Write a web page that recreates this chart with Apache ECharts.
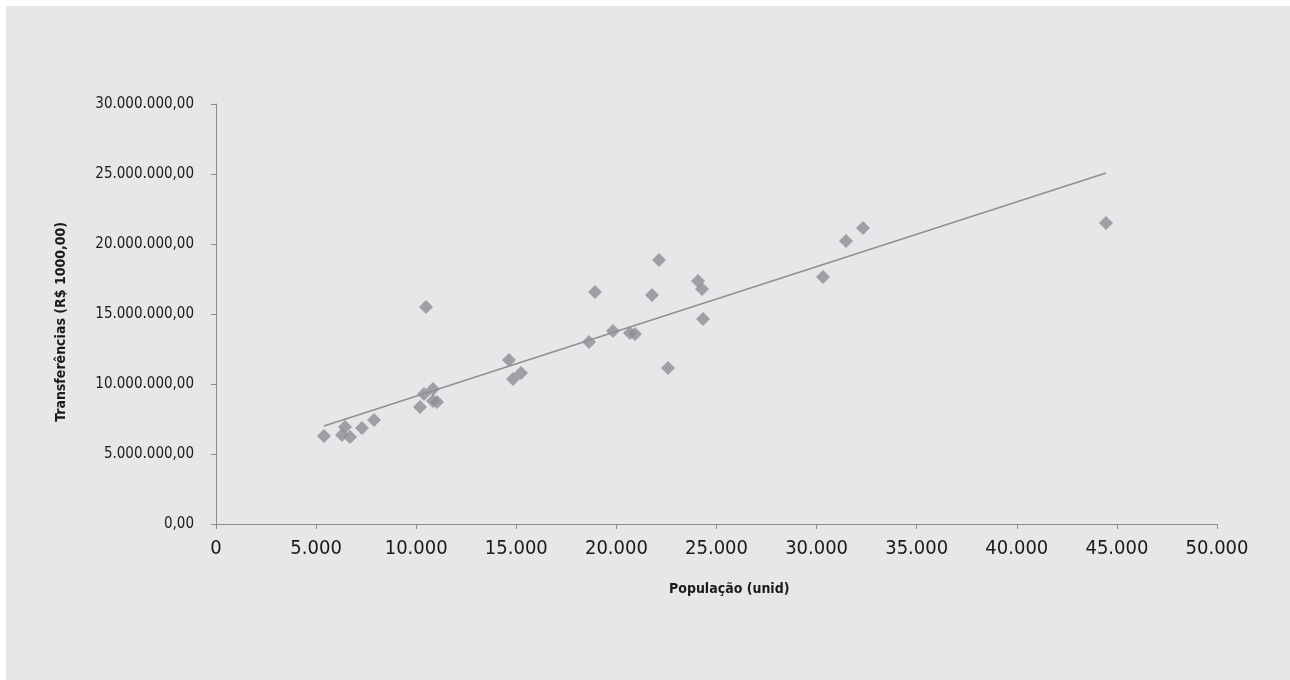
<!DOCTYPE html>
<html>
<head>
<meta charset="utf-8">
<script src="https://cdn.jsdelivr.net/npm/echarts@6/dist/echarts.min.js"></script>
<style>
html,body{margin:0;padding:0;background:#ffffff;}
#c{position:absolute;left:0;top:0;width:1290px;height:680px;}
</style>
</head>
<body>
<div id="c"></div>
<script>
// População (unid)
const populacao = [5395, 6443, 6294, 6693, 7293, 7892, 10190, 10390, 10839, 10839, 11039,
  10490, 14635, 14835, 15235, 18631, 18931, 19830, 20679, 20929, 21778, 22128, 22577,
  24076, 24276, 24326, 30320, 31469, 32318, 44456];
// Transferências (R$)
const transferencias = [6.29e6, 6.93e6, 6.36e6, 6.21e6, 6.86e6, 7.43e6, 8.36e6, 9.29e6, 9.64e6, 8.79e6, 8.71e6,
  15.5e6, 11.71e6, 10.36e6, 10.79e6, 13.0e6, 16.57e6, 13.79e6, 13.64e6, 13.57e6, 16.36e6, 18.86e6, 11.14e6,
  17.36e6, 16.79e6, 14.64e6, 17.64e6, 20.21e6, 21.14e6, 21.5e6];
// Linear trend line end points
const trendX = [5395, 44456];
const trendY = [7.0e6, 25.07e6];

const xTitle = 'População (unid)';
const yTitle = 'Transferências (R$ 1000,00)';

const FONT = "'Liberation Sans Narrow','DejaVu Sans Condensed','Liberation Sans',sans-serif";

function fmtBR(v, dec) {
  const parts = Math.abs(v).toFixed(dec).split('.');
  const intPart = parts[0].replace(/\B(?=(\d{3})+(?!\d))/g, '.');
  return intPart + (dec > 0 ? ',' + parts[1] : '');
}

const chart = echarts.init(document.getElementById('c'), null, {renderer: 'canvas'});
chart.setOption({
  animation: false,
  backgroundColor: '#ffffff',
  graphic: [
    {type: 'rect', left: 6, top: 6, shape: {width: 1284, height: 674}, style: {fill: '#e6e7e9'}, z: -10, silent: true},
    {type: 'text', left: 669, top: 582, style: {text: xTitle, font: "bold 14px " + FONT, fill: '#1a1a1a'}, z: 10},
    {type: 'text', left: 54, top: 222, rotation: Math.PI / 2, originX: 0, originY: 0,
      style: {text: yTitle, font: "bold 14px " + FONT, fill: '#1a1a1a'}, z: 10}
  ],
  grid: {left: 216, right: 73, top: 104, bottom: 156, containLabel: false},
  xAxis: {
    type: 'value', min: 0, max: 50000, interval: 5000,
    axisLine: {show: true, lineStyle: {color: '#8c8c8c', width: 1}},
    axisTick: {show: true, length: 5, lineStyle: {color: '#8c8c8c'}},
    splitLine: {show: false},
    axisLabel: {color: '#1a1a1a', fontFamily: FONT, fontSize: 20, margin: 15,
      formatter: v => fmtBR(v, 0)}
  },
  yAxis: {
    type: 'value', min: 0, max: 30000000, interval: 5000000,
    axisLine: {show: true, lineStyle: {color: '#8c8c8c', width: 1}},
    axisTick: {show: true, length: 5, lineStyle: {color: '#8c8c8c'}},
    splitLine: {show: false},
    axisLabel: {color: '#1a1a1a', fontFamily: FONT, fontSize: 15, margin: 22,
      formatter: v => fmtBR(v, 2)}
  },
  series: [
    {
      type: 'line',
      data: trendX.map((x, i) => [x, trendY[i]]),
      symbol: 'none',
      lineStyle: {color: '#8f8f8f', width: 1.5},
      z: 1, silent: true
    },
    {
      type: 'scatter',
      data: populacao.map((x, i) => [x, transferencias[i]]),
      symbol: 'diamond',
      symbolSize: [14, 14],
      itemStyle: {color: '#8d8e92'},
      z: 2
    }
  ]
});
</script>
</body>
</html>
